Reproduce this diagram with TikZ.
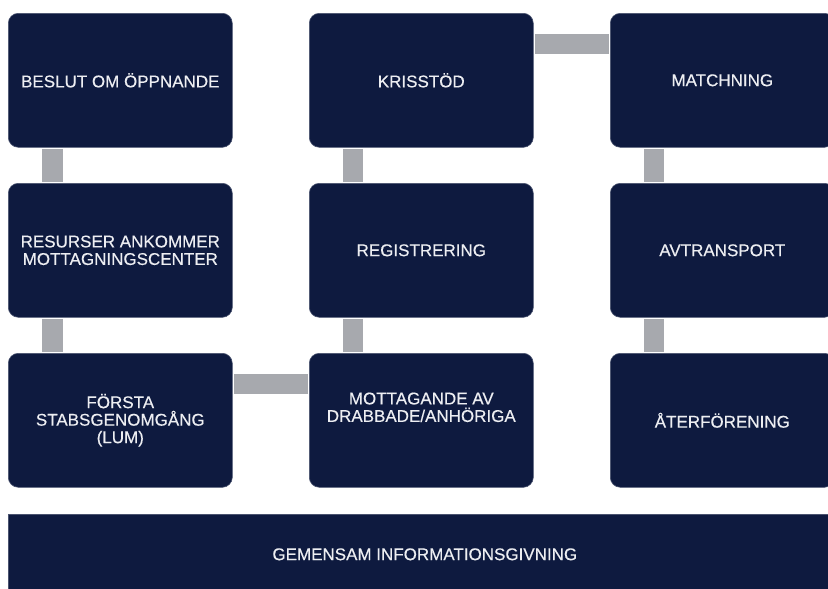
\documentclass[tikz,border=0pt]{standalone}
\usepackage{fontspec}
\setmainfont{Liberation Sans}
\newfontfamily\boxfam{Liberation Sans}[FakeBold=0.35]
\definecolor{navy}{HTML}{0E1A3F}
\definecolor{linkgray}{HTML}{A7A9AE}
\definecolor{boxtext}{HTML}{EDEEF2}

\begin{document}
\begin{tikzpicture}[x=1pt,y=-1pt,
  boxfont/.style={text=boxtext, align=center, font=\boxfam\fontsize{17}{17.5}\selectfont},
  stepbox/.style={boxfont, fill=navy, draw=navy!75!white, line width=0.6pt,
    rounded corners=10pt, minimum width=224pt, minimum height=134pt,
    anchor=north west, inner sep=0pt},
  steplabel/.style={boxfont, inner sep=0pt},
  link/.style={draw=linkgray, line width=20.5pt, shorten <=1.5pt, shorten >=1.5pt}]

\useasboundingbox (0,0) rectangle (828,589);
\clip (0,0) rectangle (828,589);

% left column
\node[stepbox] (b11) at (8,13)  {BESLUT OM ÖPPNANDE};
\node[stepbox] (b21) at (8,183) {RESURSER ANKOMMER\\MOTTAGNINGSCENTER};
\node[stepbox] (b31) at (8,353) {FÖRSTA\\STABSGENOMGÅNG\\(LUM)};

% middle column
\node[stepbox] (b12) at (309,13)  {KRISSTÖD};
\node[stepbox] (b22) at (309,183) {REGISTRERING};
\node[stepbox] (b32) at (309,353) {};
\node[steplabel] (t32) at ([yshift=13pt]b32.center) {MOTTAGANDE AV\\DRABBADE/ANHÖRIGA};

% right column
\node[stepbox] (b13) at (610,13)  {MATCHNING};
\node[stepbox] (b23) at (610,183) {AVTRANSPORT};
\node[stepbox] (b33) at (610,353) {ÅTERFÖRENING};

% shared information bar along the bottom
\node[boxfont, fill=navy, draw=navy!75!white, line width=0.6pt, anchor=north west,
  minimum width=833pt, minimum height=80pt, inner sep=0pt] (info) at (8,514)
  {GEMENSAM INFORMATIONSGIVNING};

% vertical links
\draw[link] ([xshift=44.5pt]b11.south west) -- ([xshift=44.5pt]b21.north west);
\draw[link] ([xshift=44.5pt]b21.south west) -- ([xshift=44.5pt]b31.north west);
\draw[link] ([xshift=44pt]b12.south west) -- ([xshift=44pt]b22.north west);
\draw[link] ([xshift=44pt]b22.south west) -- ([xshift=44pt]b32.north west);
\draw[link] ([xshift=44pt]b13.south west) -- ([xshift=44pt]b23.north west);
\draw[link] ([xshift=44pt]b23.south west) -- ([xshift=44pt]b33.north west);

% horizontal links
\draw[link] ([yshift=-31pt]b31.north east) -- ([yshift=-31pt]b32.north west);
\draw[link] ([yshift=-31pt]b12.north east) -- ([yshift=-31pt]b13.north west);
\end{tikzpicture}
\end{document}
